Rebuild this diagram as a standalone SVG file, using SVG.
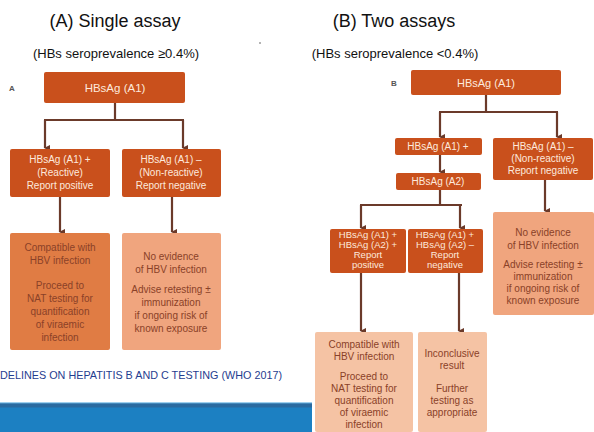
<svg xmlns="http://www.w3.org/2000/svg" width="594" height="432" viewBox="0 0 594 432">
<defs>
<marker id="ah" markerWidth="6" markerHeight="6" refX="3" refY="5" orient="auto-start-reverse" markerUnits="userSpaceOnUse" viewBox="0 0 6 6">
<path d="M0,0 L6,0 L3,6 Z" fill="#6b3a2a"/>
</marker>
<style>
.title{font-family:"Liberation Sans",Arial,sans-serif;font-size:18px;fill:#111;text-anchor:middle}
.sub{font-family:"Liberation Sans",Arial,sans-serif;font-size:13px;fill:#111;text-anchor:middle}
.dark{fill:#c9501c}
.mid{fill:#e07c44}
.light{fill:#f0a57e}
.pale{fill:#f5c3a4}
.tw{font-family:"Liberation Sans",Arial,sans-serif;font-size:10px;fill:#fde9dc;text-anchor:middle}
.ts{font-size:9.5px}
.tb{font-family:"Liberation Sans",Arial,sans-serif;font-size:10px;fill:#8a4128;text-anchor:middle}
.lbl{font-family:"Liberation Sans",Arial,sans-serif;font-size:8px;font-weight:bold;fill:#555}
.conn{stroke:#6b3a2a;stroke-width:2.2;fill:none}
</style>
</defs>
<rect width="594" height="432" fill="#fff"/>

<text class="title" x="115" y="27">(A) Single assay</text>
<text class="title" x="394" y="27">(B) Two assays</text>
<text class="sub" x="116" y="58">(HBs seroprevalence ≥0.4%)</text>
<text class="sub" x="395" y="58">(HBs seroprevalence &lt;0.4%)</text>
<circle cx="260" cy="43" r="0.8" fill="#555"/>

<text class="lbl" x="9" y="91">A</text>
<text class="lbl" x="391" y="86">B</text>

<g id="connectors">
<path class="conn" d="M115,103 V120 M44,120 H184"/>
<path class="conn" d="M45,120 V148" marker-end="url(#ah)"/>
<path class="conn" d="M183,120 V148" marker-end="url(#ah)"/>
<path class="conn" d="M60,197 V232" marker-end="url(#ah)"/>
<path class="conn" d="M172,197 V232" marker-end="url(#ah)"/>

<path class="conn" d="M486,95 V112 M439,112 H558"/>
<path class="conn" d="M440,112 V137" marker-end="url(#ah)"/>
<path class="conn" d="M557,112 V137" marker-end="url(#ah)"/>
<path class="conn" d="M440,155 V172" marker-end="url(#ah)"/>
<path class="conn" d="M440,190 V205 M360,205 H462"/>
<path class="conn" d="M361,205 V228" marker-end="url(#ah)"/>
<path class="conn" d="M460,205 V228" marker-end="url(#ah)"/>
<path class="conn" d="M545,180 V211" marker-end="url(#ah)"/>
<path class="conn" d="M361,273 V331" marker-end="url(#ah)"/>
<path class="conn" d="M459,273 V331" marker-end="url(#ah)"/>
</g>

<g id="a_top">
<rect class="dark" x="44" y="72" width="141" height="31" rx="2"/>
<text class="tw" x="115" y="92" style="font-size:11.5px">HBsAg (A1)</text>
</g>
<g id="a_pos">
<rect class="dark" x="10" y="149" width="100" height="48" rx="2"/>
<text class="tw" x="60" y="163">HBsAg (A1) +</text>
<text class="tw" x="60" y="176">(Reactive)</text>
<text class="tw" x="60" y="189">Report positive</text>
</g>
<g id="a_neg">
<rect class="dark" x="122" y="149" width="99" height="48" rx="2"/>
<text class="tw" x="171" y="163">HBsAg (A1) –</text>
<text class="tw" x="171" y="176">(Non-reactive)</text>
<text class="tw" x="171" y="189">Report negative</text>
</g>
<g id="a_compat">
<rect class="mid" x="10" y="233" width="100" height="117" rx="2"/>
<text class="tb" x="60" y="251">Compatible with</text>
<text class="tb" x="60" y="264">HBV infection</text>
<text class="tb" x="60" y="289">Proceed to</text>
<text class="tb" x="60" y="302">NAT testing for</text>
<text class="tb" x="60" y="315">quantification</text>
<text class="tb" x="60" y="328">of viraemic</text>
<text class="tb" x="60" y="341">infection</text>
</g>
<g id="a_noevid">
<rect class="light" x="122" y="233" width="99" height="117" rx="2"/>
<text class="tb" x="171" y="260">No evidence</text>
<text class="tb" x="171" y="273">of HBV infection</text>
<text class="tb" x="171" y="293">Advise retesting ±</text>
<text class="tb" x="171" y="306">immunization</text>
<text class="tb" x="171" y="319">if ongoing risk of</text>
<text class="tb" x="171" y="332">known exposure</text>
</g>

<g id="b_top">
<rect class="dark" x="411" y="70" width="150" height="25" rx="2"/>
<text class="tw" x="486" y="87" style="font-size:11px">HBsAg (A1)</text>
</g>
<g id="b_a1pos">
<rect class="dark" x="395" y="138" width="87" height="17" rx="2"/>
<text class="tw" x="438" y="150">HBsAg (A1) +</text>
</g>
<g id="b_a2">
<rect class="dark" x="396" y="173" width="85" height="17" rx="2"/>
<text class="tw" x="438" y="185">HBsAg (A2)</text>
</g>
<g id="b_neg">
<rect class="dark" x="493" y="138" width="100" height="42" rx="2"/>
<text class="tw" x="543" y="150">HBsAg (A1) –</text>
<text class="tw" x="543" y="162">(Non-reactive)</text>
<text class="tw" x="543" y="174">Report negative</text>
</g>
<g id="b_pospos">
<rect class="dark" x="330" y="229" width="76" height="44" rx="2"/>
<text class="tw ts" x="368" y="238">HBsAg (A1) +</text>
<text class="tw ts" x="368" y="248">HBsAg (A2) +</text>
<text class="tw ts" x="368" y="258">Report</text>
<text class="tw ts" x="368" y="268">positive</text>
</g>
<g id="b_posneg">
<rect class="dark" x="408" y="229" width="75" height="44" rx="2"/>
<text class="tw ts" x="445" y="238">HBsAg (A1) +</text>
<text class="tw ts" x="445" y="248">HBsAg (A2) –</text>
<text class="tw ts" x="445" y="258">Report</text>
<text class="tw ts" x="445" y="268">negative</text>
</g>
<g id="b_noevid">
<rect class="light" x="493" y="212" width="101" height="103" rx="2"/>
<text class="tb" x="543" y="236">No evidence</text>
<text class="tb" x="543" y="249">of HBV infection</text>
<text class="tb" x="543" y="268">Advise retesting ±</text>
<text class="tb" x="543" y="280">immunization</text>
<text class="tb" x="543" y="292">if ongoing risk of</text>
<text class="tb" x="543" y="304">known exposure</text>
</g>
<g id="b_compat">
<rect class="pale" x="315" y="332" width="98" height="100" rx="2"/>
<text class="tb" x="364" y="348">Compatible with</text>
<text class="tb" x="364" y="360">HBV infection</text>
<text class="tb" x="364" y="380">Proceed to</text>
<text class="tb" x="364" y="392">NAT testing for</text>
<text class="tb" x="364" y="404">quantification</text>
<text class="tb" x="364" y="416">of viraemic</text>
<text class="tb" x="364" y="428">infection</text>
</g>
<g id="b_inconcl">
<rect class="pale" x="418" y="332" width="69" height="100" rx="2"/>
<text class="tb" x="452" y="357">Inconclusive</text>
<text class="tb" x="452" y="369">result</text>
<text class="tb" x="452" y="392">Further</text>
<text class="tb" x="452" y="404">testing as</text>
<text class="tb" x="452" y="416">appropriate</text>
</g>

<text x="0" y="379" font-family="'Liberation Sans',Arial,sans-serif" font-size="11px" fill="#1f3d8f" textLength="282" lengthAdjust="spacingAndGlyphs">DELINES ON HEPATITIS B AND C TESTING (WHO 2017)</text>

<rect x="0" y="402" width="312" height="30" fill="#1c80c2"/>
<rect x="0" y="402" width="312" height="1.5" fill="#9fd0ee"/>
<rect x="0" y="403.5" width="312" height="4" fill="#2a6aa0"/>
</svg>
